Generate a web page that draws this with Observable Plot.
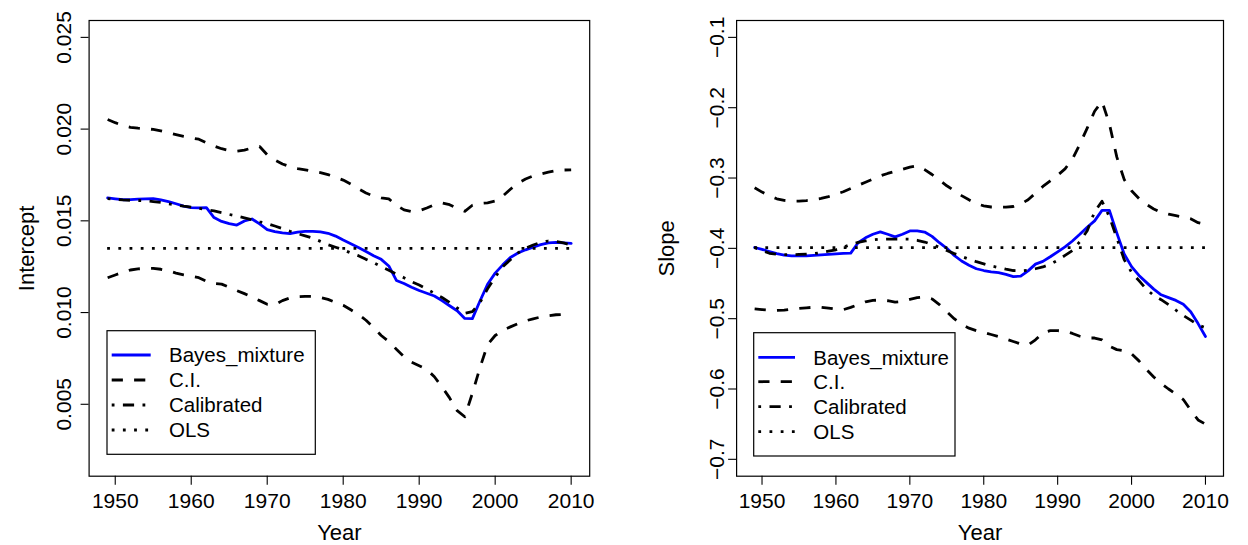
<!DOCTYPE html>
<html><head><meta charset="utf-8">
<script src="https://cdn.jsdelivr.net/npm/d3@7"></script>
<script src="https://cdn.jsdelivr.net/npm/@observablehq/plot@0.6"></script>
<style>
html,body{margin:0;padding:0;background:#fff;}
#wrap{display:flex;width:1248px;height:545px;overflow:hidden;}
#wrap svg{display:block;flex:none;}
</style></head><body><div id="wrap"></div>
<script>
// ---------- DATA ----------
const years = [1949,1950,1951,1952,1953,1954,1955,1956,1957,1958,1959,1960,1961,1962,1963,1964,1965,1966,1967,1968,
1969,1970,1971,1972,1973,1974,1975,1976,1977,1978,1979,1980,1981,1982,1983,1984,1985,1986,1987,1988,
1989,1990,1991,1992,1993,1994,1995,1996,1997,1998,1999,2000,2001,2002,2003,2004,2005,2006,2007,2008,2009,2010];
const xTicks = [1950,1960,1970,1980,1990,2000,2010];
const legendLabels = ["Bayes_mixture","C.I.","Calibrated","OLS"];

const interceptBayes = [
0.01625,0.01620,0.01615,0.01616,0.01618,0.01620,0.01621,0.01614,0.01605,0.01593,
0.01580,0.01572,0.01571,0.01572,0.01518,0.01497,0.01485,0.01477,0.01499,0.01510,
0.01483,0.01452,0.01441,0.01434,0.01430,0.01439,0.01443,0.01443,0.01440,0.01432,
0.01417,0.01395,0.01375,0.01355,0.01333,0.01310,0.01290,0.01254,0.01175,0.01158,
0.01138,0.01120,0.01105,0.01090,0.01065,0.01037,0.01010,0.00968,0.00967,0.01063,
0.01154,0.01215,0.01260,0.01300,0.01325,0.01342,0.01357,0.01370,0.01380,0.01383,
0.01380,0.01377];
const interceptCalibrated = [
0.01621,0.01617,0.01614,0.01612,0.01611,0.01609,0.01605,0.01600,0.01593,0.01586,
0.01580,0.01575,0.01568,0.01561,0.01554,0.01545,0.01535,0.01526,0.01516,0.01506,
0.01495,0.01485,0.01472,0.01458,0.01443,0.01430,0.01418,0.01406,0.01388,0.01370,
0.01356,0.01342,0.01325,0.01310,0.01290,0.01272,0.01250,0.01230,0.01210,0.01190,
0.01168,0.01150,0.01128,0.01105,0.01082,0.01055,0.01025,0.00996,0.01005,0.01055,
0.01130,0.01193,0.01250,0.01288,0.01325,0.01350,0.01368,0.01383,0.01390,0.01388,
0.01380,0.01368];
const interceptUpper = [
0.02052,0.02035,0.02020,0.02010,0.02005,0.02002,0.01998,0.01990,0.01980,0.01970,
0.01960,0.01952,0.01945,0.01925,0.01908,0.01893,0.01883,0.01880,0.01885,0.01898,
0.01905,0.01860,0.01832,0.01810,0.01795,0.01785,0.01778,0.01770,0.01763,0.01752,
0.01738,0.01722,0.01700,0.01675,0.01652,0.01635,0.01625,0.01620,0.01585,0.01560,
0.01550,0.01555,0.01570,0.01588,0.01598,0.01588,0.01568,0.01552,0.01585,0.01595,
0.01598,0.01608,0.01635,0.01672,0.01705,0.01728,0.01745,0.01755,0.01765,0.01773,
0.01777,0.01778];
const interceptLower = [
0.01190,0.01205,0.01220,0.01232,0.01238,0.01241,0.01241,0.01236,0.01228,0.01215,
0.01205,0.01198,0.01190,0.01170,0.01158,0.01155,0.01138,0.01120,0.01103,0.01085,
0.01065,0.01045,0.01042,0.01065,0.01080,0.01086,0.01088,0.01088,0.01082,0.01072,
0.01055,0.01040,0.01015,0.00990,0.00958,0.00918,0.00875,0.00842,0.00800,0.00760,
0.00730,0.00710,0.00690,0.00650,0.00595,0.00535,0.00465,0.00432,0.00560,0.00700,
0.00825,0.00875,0.00903,0.00922,0.00940,0.00955,0.00966,0.00976,0.00983,0.00988,
0.00990,0.00990];
const interceptOLS = 0.0135;
const interceptTicks = [0.005,0.010,0.015,0.020,0.025];

const slopeBayes = [
-0.3988,-0.4015,-0.4045,-0.4075,-0.4095,-0.4106,-0.4108,-0.4107,-0.4100,-0.4092,
-0.4085,-0.4078,-0.4072,-0.4068,-0.3920,-0.3850,-0.3800,-0.3766,-0.3800,-0.3837,
-0.3800,-0.3752,-0.3752,-0.3768,-0.3830,-0.3920,-0.4000,-0.4100,-0.4180,-0.4240,
-0.4290,-0.4315,-0.4335,-0.4345,-0.4370,-0.4402,-0.4395,-0.4320,-0.4224,-0.4185,
-0.4120,-0.4050,-0.3980,-0.3895,-0.3800,-0.3700,-0.3610,-0.3460,-0.3460,-0.3780,
-0.4080,-0.4260,-0.4385,-0.4484,-0.4580,-0.4660,-0.4700,-0.4740,-0.4795,-0.4900,
-0.5070,-0.5253];
const slopeCalibrated = [
-0.3990,-0.4030,-0.4070,-0.4083,-0.4090,-0.4090,-0.4087,-0.4082,-0.4075,-0.4060,
-0.4040,-0.4020,-0.3985,-0.3945,-0.3915,-0.3895,-0.3880,-0.3870,-0.3868,-0.3868,
-0.3868,-0.3870,-0.3885,-0.3910,-0.3945,-0.3985,-0.4030,-0.4075,-0.4115,-0.4155,
-0.4190,-0.4220,-0.4250,-0.4272,-0.4295,-0.4315,-0.4318,-0.4312,-0.4290,-0.4265,
-0.4225,-0.4170,-0.4100,-0.4030,-0.3905,-0.3750,-0.3480,-0.3330,-0.3550,-0.3850,
-0.4160,-0.4340,-0.4460,-0.4580,-0.4670,-0.4730,-0.4800,-0.4880,-0.4955,-0.5020,
-0.5090,-0.5130];
const slopeUpper = [
-0.3138,-0.3200,-0.3255,-0.3295,-0.3318,-0.3328,-0.3328,-0.3320,-0.3308,-0.3290,
-0.3265,-0.3230,-0.3195,-0.3150,-0.3105,-0.3060,-0.3015,-0.2970,-0.2935,-0.2905,
-0.2875,-0.2845,-0.2825,-0.2880,-0.2950,-0.3030,-0.3110,-0.3180,-0.3250,-0.3310,
-0.3365,-0.3395,-0.3412,-0.3415,-0.3415,-0.3405,-0.3370,-0.3310,-0.3215,-0.3120,
-0.3040,-0.2960,-0.2870,-0.2730,-0.2520,-0.2290,-0.2050,-0.1910,-0.2230,-0.2700,
-0.3020,-0.3180,-0.3290,-0.3375,-0.3440,-0.3490,-0.3515,-0.3535,-0.3555,-0.3580,
-0.3635,-0.3660];
const slopeLower = [
-0.4860,-0.4870,-0.4878,-0.4882,-0.4878,-0.4865,-0.4855,-0.4845,-0.4838,-0.4838,
-0.4850,-0.4865,-0.4872,-0.4840,-0.4800,-0.4760,-0.4740,-0.4735,-0.4745,-0.4765,
-0.4755,-0.4725,-0.4700,-0.4690,-0.4720,-0.4800,-0.4900,-0.5000,-0.5080,-0.5135,
-0.5170,-0.5195,-0.5225,-0.5255,-0.5290,-0.5325,-0.5360,-0.5375,-0.5300,-0.5200,
-0.5170,-0.5170,-0.5180,-0.5210,-0.5250,-0.5275,-0.5275,-0.5300,-0.5390,-0.5440,
-0.5455,-0.5500,-0.5600,-0.5720,-0.5830,-0.5920,-0.6000,-0.6070,-0.6150,-0.6300,
-0.6440,-0.6500];
const slopeOLS = -0.399;
const slopeTicks = [-0.7,-0.6,-0.5,-0.4,-0.3,-0.2,-0.1];

// ---------- STYLE ----------
const FONT = "'Liberation Sans', Arial, Helvetica, sans-serif";
const FS = 21;        // tick labels
const FS_LAB = 22;    // axis titles
const FS_LEG = 20.5;  // legend
const LW = 2.8;
const DASH_CI = "11.2,11.2";
const DASH_CAL = "2.8,8.4,11.2,8.4";
const DASH_OLS = "2.8,8.4";
const BLUE = "#0000ff";

function rows(vals){ return years.map((y,i)=>({year:y, value:vals[i]})); }

function makePanel(o){
  const span = years[years.length-1]-years[0];
  const xDomain = [years[0]-0.04*span, years[years.length-1]+0.04*span];
  const ys = o.yLim[1]-o.yLim[0];
  const yDomain = [o.yLim[0]-0.04*ys, o.yLim[1]+0.04*ys];
  const dashed = {x:"year", y:"value", stroke:"#000", strokeWidth:LW, strokeLinecap:"butt", strokeLinejoin:"round"};
  const svg = Plot.plot({
    width: 624, height: 545,
    marginLeft: o.mL, marginRight: o.mR, marginTop: 20, marginBottom: 69.3,
    x: {domain: xDomain, axis: null},
    y: {domain: yDomain, axis: null},
    style: {fontFamily: FONT, fontSize: FS+"px", color:"#000", background:"#fff", overflow:"visible"},
    marks: [
      Plot.line(rows(o.bayes), {x:"year", y:"value", stroke:BLUE, strokeWidth:LW, strokeLinejoin:"round"}),
      Plot.line(rows(o.upper), {...dashed, strokeDasharray:DASH_CI}),
      Plot.line(rows(o.lower), {...dashed, strokeDasharray:DASH_CI}),
      Plot.line(rows(o.cal), {...dashed, strokeDasharray:DASH_CAL}),
      Plot.ruleY([{y:o.ols, x1:years[0], x2:years[years.length-1]}], {y:"y", x1:"x1", x2:"x2", stroke:"#000", strokeWidth:LW, strokeDasharray:DASH_OLS}),
      Plot.frame({stroke:"#000", strokeWidth:1.2}),
      Plot.axisX({ticks:xTicks, tickSize:9, tickPadding:8, tickFormat:d=>String(d), fontSize:FS, label:null, strokeWidth:1.1}),
      Plot.axisY({ticks:o.yTicks, tickSize:8, tickPadding:o.yPad, tickRotate:-90, tickFormat:o.fmt, fontSize:FS, label:null, strokeWidth:1.1}),
      Plot.text([o.yLabel], {frameAnchor:"left", rotate:-90, dx:o.yTitleDx, lineAnchor:"bottom", textAnchor:"middle", fontSize:FS_LAB}),
      Plot.text(["Year"], {frameAnchor:"bottom", dy:63.5, lineAnchor:"bottom", textAnchor:"middle", fontSize:FS_LAB})
    ]
  });
  // legend
  const L = o.legend;
  const g = d3.select(svg).append("g").attr("font-family", FONT).attr("font-size", FS_LEG).attr("text-anchor","start");
  g.append("rect").attr("x",L.x0).attr("y",L.y0).attr("width",L.x1-L.x0).attr("height",L.y1-L.y0)
    .attr("fill","#fff").attr("stroke","#000").attr("stroke-width",1.2);
  const lstyles = [
    {stroke:BLUE, dash:null},
    {stroke:"#000", dash:DASH_CI},
    {stroke:"#000", dash:DASH_CAL},
    {stroke:"#000", dash:DASH_OLS}
  ];
  legendLabels.forEach((lab,i)=>{
    const y = L.rows[i];
    const ln = g.append("line").attr("x1",L.s0).attr("x2",L.s1).attr("y1",y).attr("y2",y)
      .attr("stroke",lstyles[i].stroke).attr("stroke-width",LW).attr("stroke-linecap","butt");
    if (lstyles[i].dash) ln.attr("stroke-dasharray", lstyles[i].dash);
    g.append("text").attr("x",L.tx).attr("y",y+7.3).attr("fill","#000").attr("text-anchor","start").text(lab);
  });
  return svg;
}

const wrap = document.getElementById("wrap");
wrap.appendChild(makePanel({
  mL: 88.6, mR: 34.8, yLim:[0.002,0.025], yTicks: interceptTicks, fmt: d=>d.toFixed(3), yPad: 10.3,
  yLabel:"Intercept", yTitleDx:-55.3,
  bayes: interceptBayes, cal: interceptCalibrated, upper: interceptUpper, lower: interceptLower, ols: interceptOLS,
  legend: {x0:107, x1:315.3, y0:330.7, y1:454.3, s0:111.7, s1:150.7, tx:169, rows:[355,380,405,430]}
}));
wrap.appendChild(makePanel({
  mL: 112.1, mR: 25, yLim:[-0.7,-0.1], yTicks: slopeTicks, fmt: d=>(d<0?"\u2212":"")+Math.abs(d).toFixed(1), yPad: 4.8,
  yLabel:"Slope", yTitleDx:-63.1,
  bayes: slopeBayes, cal: slopeCalibrated, upper: slopeUpper, lower: slopeLower, ols: slopeOLS,
  legend: {x0:129.7, x1:331, y0:332.7, y1:456, s0:134.3, s1:171, tx:189.3, rows:[357.3,381.7,406.7,431.7]}
}));
</script>
</body></html>
